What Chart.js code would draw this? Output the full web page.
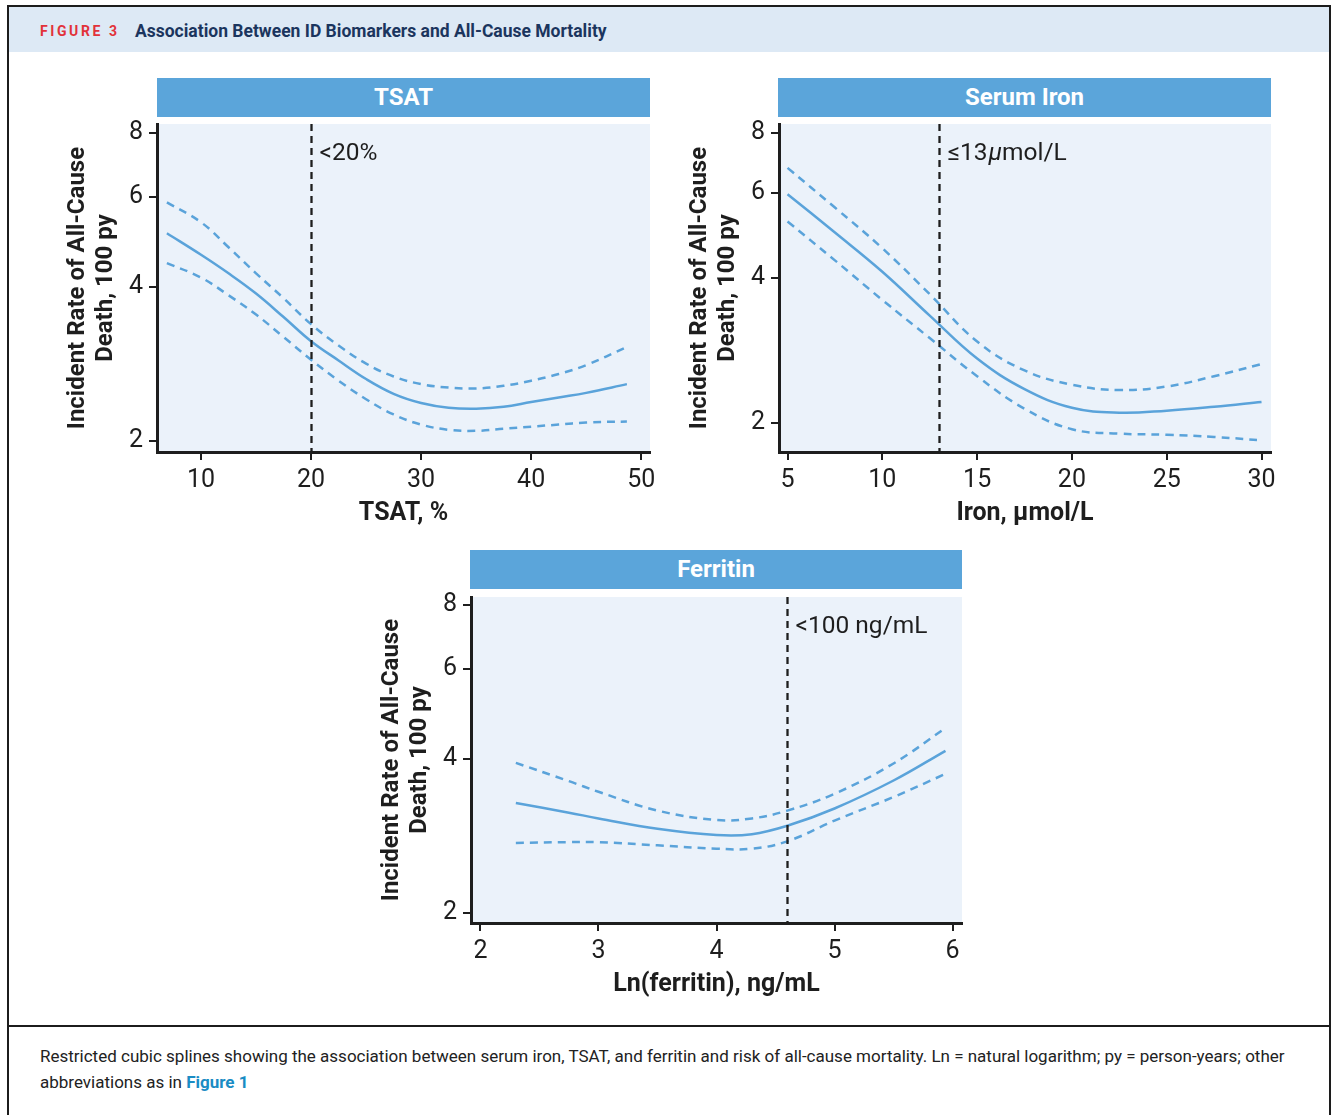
<!DOCTYPE html>
<html>
<head>
<meta charset="utf-8">
<script src="https://cdn.jsdelivr.net/npm/chart.js@4.4.1/dist/chart.umd.min.js"></script>
<style>
  html, body { margin: 0; padding: 0; }
  body { width: 1336px; height: 1115px; background: #ffffff; position: relative; overflow: hidden; font-family: Roboto, "Open Sans", sans-serif; }
  #frame { position: absolute; left: 7px; top: 5px; width: 1324px; height: 1120px; border: 2px solid #1c1c1c; border-bottom: none; box-sizing: border-box; }
  #header { position: absolute; left: 9px; top: 7px; width: 1320px; height: 45px; background: #dde9f5; }
  #figlabel { position: absolute; left: 40px; top: 21px; font-size: 14px; font-weight: 700; color: #e2323a; letter-spacing: 2.6px; line-height: 20px; }
  #figtitle { position: absolute; left: 135px; top: 20px; font-size: 17.5px; font-weight: 700; color: #1b355e; line-height: 22px; }
  #sep { position: absolute; left: 7px; top: 1025px; width: 1324px; height: 2px; background: #1c1c1c; }
  #caption { position: absolute; left: 40px; top: 1043px; width: 1290px; font-size: 17px; line-height: 26px; color: #222; white-space: nowrap; }
  #caption b { color: #1a8cc4; }
  .bar { position: absolute; height: 39px; background: #5ba5da; color: #fff; font-weight: 700; font-size: 24px; text-align: center; line-height: 39px; }
  .cv { position: absolute; }
</style>
</head>
<body>
<div id="frame"></div>
<div id="header"></div>
<div id="figlabel">FIGURE 3</div>
<div id="figtitle">Association Between ID Biomarkers and All-Cause Mortality</div>

<div class="bar" style="left:157px;top:78px;width:493px;">TSAT</div>
<div class="bar" style="left:778px;top:78px;width:493px;">Serum Iron</div>
<div class="bar" style="left:470px;top:550px;width:492px;">Ferritin</div>

<div class="cv" style="left:64px;top:118px;width:596px;height:409px;"><canvas id="c1"></canvas></div>
<div class="cv" style="left:686px;top:118px;width:595px;height:409px;"><canvas id="c2"></canvas></div>
<div class="cv" style="left:378px;top:591px;width:594px;height:407px;"><canvas id="c3"></canvas></div>

<div id="sep"></div>
<div id="caption">Restricted cubic splines showing the association between serum iron, TSAT, and ferritin and risk of all-cause mortality. Ln = natural logarithm; py = person-years; other<br>abbreviations as in <b>Figure 1</b></div>

<script>
// ---------- DATA ----------
const yTicks = [2, 4, 6, 8];

// TSAT panel
const tsatX      = [6.9, 10, 12.5, 15, 17.5, 20, 22.5, 25, 27.5, 30, 32.5, 35, 37.5, 40, 42.5, 45, 48.7];
const tsatRate   = [5.09, 4.62, 4.25, 3.88, 3.49, 3.13, 2.87, 2.64, 2.47, 2.37, 2.32, 2.31, 2.33, 2.38, 2.43, 2.48, 2.58];
const tsatUpper  = [5.85, 5.35, 4.78, 4.25, 3.80, 3.38, 3.07, 2.83, 2.67, 2.58, 2.54, 2.53, 2.56, 2.62, 2.70, 2.81, 3.05];
const tsatLower  = [4.45, 4.17, 3.85, 3.53, 3.19, 2.88, 2.62, 2.41, 2.25, 2.15, 2.10, 2.09, 2.11, 2.13, 2.15, 2.17, 2.18];
const tsatXTicks = [10, 20, 30, 40, 50];

// Serum iron panel
const ironX      = [5, 7.5, 10, 12.5, 15, 17.5, 20, 22.5, 25, 27.5, 30];
const ironRate   = [5.97, 4.97, 4.12, 3.34, 2.72, 2.35, 2.15, 2.10, 2.12, 2.16, 2.21];
const ironUpper  = [6.77, 5.60, 4.61, 3.70, 2.95, 2.57, 2.40, 2.34, 2.38, 2.50, 2.65];
const ironLower  = [5.24, 4.35, 3.60, 3.00, 2.50, 2.14, 1.94, 1.90, 1.89, 1.87, 1.84];
const ironXTicks = [5, 10, 15, 20, 25, 30];

// Ferritin panel
const ferrX      = [2.3, 2.75, 3.0, 3.5, 4.0, 4.3, 4.6, 5.0, 5.5, 5.94];
const ferrRate   = [3.28, 3.14, 3.06, 2.92, 2.84, 2.85, 2.96, 3.20, 3.63, 4.15];
const ferrUpper  = [3.93, 3.62, 3.45, 3.17, 3.04, 3.06, 3.17, 3.42, 3.92, 4.60];
const ferrLower  = [2.74, 2.75, 2.75, 2.71, 2.67, 2.67, 2.76, 3.03, 3.37, 3.74];
const ferrXTicks = [2, 3, 4, 5, 6];

// ---------- STYLE ----------
const FONT = 'Roboto, "Open Sans", sans-serif';
const INK = '#1e1e1e';
const BLUE = '#5aa3da';
const PLOT_BG = '#ebf2fa';

const panelPlugin = {
  id: 'panel',
  beforeDraw(chart, args, o) {
    const { ctx, chartArea: a } = chart;
    ctx.save();
    ctx.fillStyle = PLOT_BG;
    ctx.fillRect(a.left, a.top, a.right - a.left, a.bottom - a.top);
    ctx.restore();
  },
  afterDatasetsDraw(chart, args, o) {
    const { ctx, chartArea: a } = chart;
    const px = Math.round(chart.scales.x.getPixelForValue(o.cut)) + 0.5;
    ctx.save();
    ctx.strokeStyle = INK;
    ctx.lineWidth = 2.3;
    ctx.setLineDash([7, 5]);
    ctx.beginPath();
    ctx.moveTo(px, a.top);
    ctx.lineTo(px, a.bottom);
    ctx.stroke();
    ctx.setLineDash([]);
    let x = px + 8;
    const y = a.top + 30;
    ctx.fillStyle = INK;
    ctx.textBaseline = 'middle';
    ctx.textAlign = 'left';
    for (const seg of o.label) {
      ctx.font = (seg.italic ? 'italic ' : '') + '24.5px ' + FONT;
      ctx.fillText(seg.t, x, y);
      x += ctx.measureText(seg.t).width + (seg.gap || 0);
    }
    ctx.restore();
  }
};

function makeChart(id, xs, mid, up, lo, xmin, xmax, ymin, ymax, xTicks, xTitle, cut, label) {
  const pts = arr => xs.map((x, i) => ({ x: x, y: arr[i] }));
  const common = { borderColor: BLUE, borderWidth: 2.5, pointRadius: 0, fill: false, tension: 0.4 };
  return new Chart(document.getElementById(id), {
    type: 'line',
    data: {
      datasets: [
        Object.assign({ label: 'upper', data: pts(up), borderDash: [8, 6] }, common),
        Object.assign({ label: 'lower', data: pts(lo), borderDash: [8, 6] }, common),
        Object.assign({ label: 'rate', data: pts(mid) }, common)
      ]
    },
    options: {
      responsive: true,
      maintainAspectRatio: false,
      animation: false,
      events: [],
      layout: { padding: { top: 6, right: 10, left: 0, bottom: 0 } },
      plugins: { legend: { display: false }, tooltip: { enabled: false }, panel: { cut: cut, label: label } },
      scales: {
        x: {
          type: 'linear', min: xmin, max: xmax, bounds: 'data',
          afterBuildTicks: s => { s.ticks = xTicks.map(v => ({ value: v })); },
          afterFit: s => { s.height = 75; s.paddingLeft = 0; s.paddingRight = 0; s.paddingTop = 0; s.paddingBottom = 0; },
          border: { display: true, color: INK, width: 3 },
          grid: { drawOnChartArea: false, drawTicks: true, tickLength: 8, color: INK, lineWidth: 2 },
          ticks: { color: INK, font: { size: 25, family: FONT }, padding: 6, maxRotation: 0, autoSkip: false, callback: v => String(v) },
          title: { display: true, text: xTitle, color: INK, font: { size: 25, weight: 'bold', family: FONT, lineHeight: 1.1 }, padding: 0 }
        },
        y: {
          type: 'logarithmic', min: ymin, max: ymax, bounds: 'data',
          afterBuildTicks: s => { s.ticks = yTicks.map(v => ({ value: v })); },
          afterFit: s => { s.width = 93; s.paddingTop = 0; s.paddingBottom = 0; s.paddingLeft = 0; s.paddingRight = 0; },
          border: { display: true, color: INK, width: 3 },
          grid: { drawOnChartArea: false, drawTicks: true, tickLength: 8, color: INK, lineWidth: 2 },
          ticks: { color: INK, font: { size: 25, family: FONT }, padding: 6, autoSkip: false, callback: v => String(v) },
          title: { display: true, text: ['Incident Rate of All-Cause', 'Death, 100 py'], color: INK, font: { size: 24, weight: 'bold', family: FONT, lineHeight: 1.17 }, padding: 0 }
        }
      }
    },
    plugins: [panelPlugin]
  });
}

makeChart('c1', tsatX, tsatRate, tsatUpper, tsatLower, 6.0, 50.8, 1.90, 8.33, tsatXTicks, 'TSAT, %', 20,
  [{ t: '<20%' }]);
makeChart('c2', ironX, ironRate, ironUpper, ironLower, 4.55, 30.5, 1.74, 8.35, ironXTicks, 'Iron, \u03bcmol/L', 13,
  [{ t: '\u226413', gap: 1 }, { t: '\u03bc', italic: true }, { t: 'mol/L' }]);
makeChart('c3', ferrX, ferrRate, ferrUpper, ferrLower, 1.92, 6.08, 1.91, 8.3, ferrXTicks, 'Ln(ferritin), ng/mL', 4.6,
  [{ t: '<100 ng/mL' }]);
</script>
</body>
</html>
